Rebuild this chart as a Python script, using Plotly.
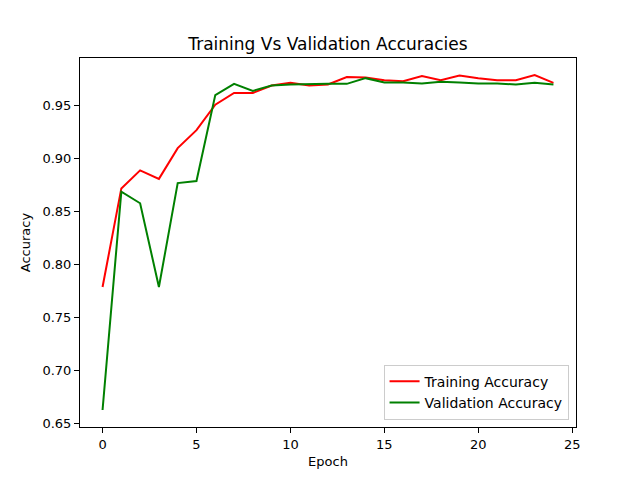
import plotly.graph_objects as go

epochs = list(range(25))
train_acc = [0.779, 0.872, 0.889, 0.881, 0.910, 0.927, 0.951, 0.962, 0.962, 0.969,
             0.9716, 0.969, 0.970, 0.977, 0.9765, 0.974, 0.973, 0.978, 0.974, 0.9784,
             0.976, 0.974, 0.974, 0.979, 0.9716]
val_acc = [0.663, 0.869, 0.858, 0.779, 0.877, 0.879, 0.960, 0.9706, 0.964, 0.969,
           0.970, 0.9706, 0.9706, 0.9706, 0.976, 0.972, 0.972, 0.971, 0.9725, 0.972,
           0.971, 0.971, 0.970, 0.9716, 0.970]
x_ticks = [0, 5, 10, 15, 20, 25]
y_ticks = [0.65, 0.70, 0.75, 0.80, 0.85, 0.90, 0.95]

fig = go.Figure()
fig.add_trace(go.Scatter(x=epochs, y=train_acc, mode="lines", name="Training Accuracy",
                         line=dict(color="red", width=2)))
fig.add_trace(go.Scatter(x=epochs, y=val_acc, mode="lines", name="Validation Accuracy",
                         line=dict(color="green", width=2)))

axis_common = dict(showgrid=False, zeroline=False, showline=True, linecolor="black",
                   linewidth=1, mirror=True, ticks="outside", ticklen=5, tickwidth=1,
                   tickcolor="black", tickfont=dict(family="DejaVu Sans", size=13, color="black"),
                   title_font=dict(family="DejaVu Sans", size=13, color="black"))

fig.update_layout(
    width=640, height=480,
    paper_bgcolor="white", plot_bgcolor="white",
    margin=dict(l=80, r=64, t=58, b=53),
    title=dict(text="Training Vs Validation Accuracies", xref="paper", x=0.5, xanchor="center",
               y=1 - 44 / 480, yanchor="middle",
               font=dict(family="DejaVu Sans", size=17, color="black")),
    xaxis=dict(range=[-1.2, 25.2], tickvals=x_ticks, ticktext=[str(t) for t in x_ticks],
               title=dict(text="Epoch", standoff=6), **axis_common),
    yaxis=dict(range=[0.647, 0.995], tickvals=y_ticks, ticktext=[f"{t:.2f}" for t in y_ticks],
               title=dict(text="Accuracy", standoff=8), **axis_common),
    legend=dict(x=0.985, y=0.02, xanchor="right", yanchor="bottom",
                bgcolor="rgba(255,255,255,0.8)", bordercolor="#cccccc", borderwidth=1,
                font=dict(family="DejaVu Sans", size=14, color="black"),
                tracegroupgap=0),
    showlegend=True,
)

fig.write_html("out.html")
